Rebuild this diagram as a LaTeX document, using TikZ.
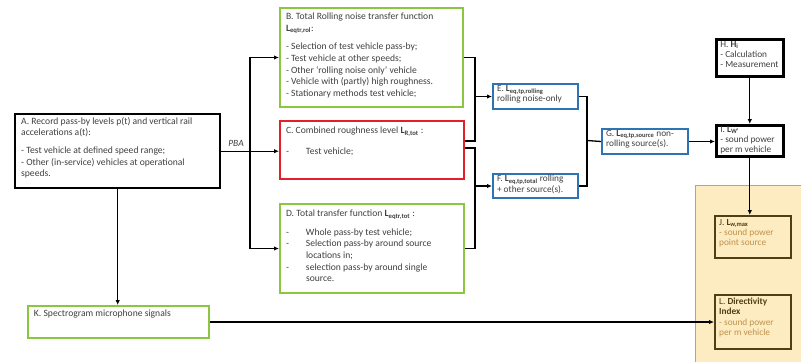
\documentclass[tikz,border=0pt]{standalone}
\usepackage{fontspec}
\setmainfont{Carlito}
\usetikzlibrary{arrows.meta}
\definecolor{gtxt}{HTML}{3F3F3F}
\definecolor{grn}{HTML}{8CC63F}
\definecolor{rd}{HTML}{E3202A}
\definecolor{blu}{HTML}{2E74B5}
\definecolor{brn}{HTML}{4F3F14}
\definecolor{org}{HTML}{C0924A}
\definecolor{yel}{HTML}{FDEBC2}
\newcommand\Lsub[1]{\textbf{L}\textsubscript{\bfseries #1}}
\newcommand\bt[4]{\begin{minipage}[c][#2][t]{#1}\vspace*{#3}\raggedright #4\end{minipage}}
\newcommand\itm[1]{\par\hangindent=20pt\hangafter=1\noindent\makebox[20pt][l]{-}\ignorespaces #1}
\begin{document}
\begin{tikzpicture}[x=1pt,y=-1pt,
  box/.style={draw=#1, line width=2pt, inner xsep=6pt, inner ysep=0pt, anchor=north west, text=gtxt,
     font=\fontsize{9.6}{11.6}\selectfont},
  sbox/.style={box=#1, inner xsep=4pt, font=\fontsize{9.3}{10.2}\selectfont},
  conn/.style={line width=1.3pt, black},
  arr/.style={conn, -{Latex[length=5pt,width=4.5pt]}}]
\useasboundingbox (0,0) rectangle (801,362);
\fill[yel] (695,185) rectangle (801,362);
\draw[gray!70, line width=0.6pt] (695,362) -- (695,185) -- (801,185);

% boxes
\node[box=black, line width=2.4pt] (A) at (14,113) {\bt{193pt}{74pt}{3pt}{A. Record pass-by levels p(t) and vertical rail accelerations a(t):\par\vspace{6pt}- Test vehicle at defined speed range;\\ - Other (in-service) vehicles at operational speeds.}};

\node[box=grn] (B) at (279,7) {\bt{171pt}{99pt}{5pt}{B. Total Rolling noise transfer function\\ \Lsub{eqtr,rol}:\par\vspace{7pt}- Selection of test vehicle pass-by;\\ - Test vehicle at other speeds;\\ - Other `rolling noise only' vehicle\\ - Vehicle with (partly) high roughness.\\ - Stationary methods test vehicle;}};

\node[box=rd] (C) at (279,120) {\bt{172pt}{58pt}{6pt}{C. Combined roughness level \Lsub{R,tot} :\par\vspace{9pt}\itm{Test vehicle;}}};

\node[box=grn] (D) at (279,203) {\bt{172pt}{89pt}{6pt}{D. Total transfer function \Lsub{eqtr,tot} :\par\vspace{7pt}\itm{Whole pass-by test vehicle;}\itm{Selection pass-by around source\newline locations in;}\itm{selection pass-by around single\newline source.}}};

\node[sbox=blu] (E) at (492,83) {\bt{77pt}{25pt}{1.5pt}{E. \Lsub{eq,tp,rolling}\\ rolling noise-only}};
\node[sbox=blu] (F) at (492,173) {\bt{77pt}{24pt}{1.5pt}{F. \Lsub{eq,tp,total} rolling\\ + other source(s).}};
\node[sbox=blu] (G) at (601,128) {\bt{78pt}{25pt}{1.5pt}{G. \Lsub{eq,tp,source} non-\\ rolling source(s).}};

\node[sbox=black, line width=2.6pt] (H) at (715,38) {\bt{59pt}{37pt}{2pt}{H. \textbf{H}\textsubscript{\bfseries i}\\ - Calculation\\ - Measurement}};
\node[sbox=black, line width=2.6pt] (I) at (715,124) {\bt{59pt}{31pt}{1pt}{I. \Lsub{W'}\\ - sound power\\ per m vehicle}};

\node[sbox=brn, line width=2.4pt] (J) at (714,215) {\bt{68pt}{42pt}{3pt}{\color{brn}J. \Lsub{w,max}\\ \color{org}- sound power\\ point source}};
\node[sbox=brn, line width=2.4pt] (L) at (714,294) {\bt{68pt}{54pt}{3pt}{\color{brn}L. \textbf{Directivity}\\ \textbf{Index}\\ \color{org}- sound power\\ per m vehicle}};

\node[box=grn] (K) at (27,305) {\bt{169pt}{32pt}{4pt}{K. Spectrogram microphone signals}};

% connectors
\coordinate (pj) at (250,149);
\draw[arr] (A.east) -- (A.east -| C.west);
\node[font=\fontsize{9.5}{10}\itshape, text=gtxt, anchor=south, inner sep=1pt] (pba) at (236,148) {PBA};
\draw[arr] (pj) |- (B.west);
\draw[arr] (pj) |- (D.west);

\coordinate (c1) at (475,141);
\coordinate (c2) at (475,148);
\draw[conn] (B.east) -| (c1) -- (c1 -| C.east);
\draw[conn] (D.east) -| (c2) -- (c2 -| C.east);
\draw[arr] (E.west -| c1) -- (E.west);
\draw[arr] (F.west -| c1) -- (F.west);

\coordinate (j) at (587,140.5);
\draw[conn] (E.east) -| (j);
\draw[conn] (F.east) -| (j);
\draw[conn] (j) -- (G.west);
\draw[arr] (G.east) -- (G.east -| I.west);
\draw[arr] (H.south) -- (I.north);
\draw[arr] (I.south) -- (I.south |- J.north);
\draw[arr] (A.south) -- (A.south |- K.north);
\draw[arr] (K.east) -- (K.east -| L.west);
\end{tikzpicture}
\end{document}
